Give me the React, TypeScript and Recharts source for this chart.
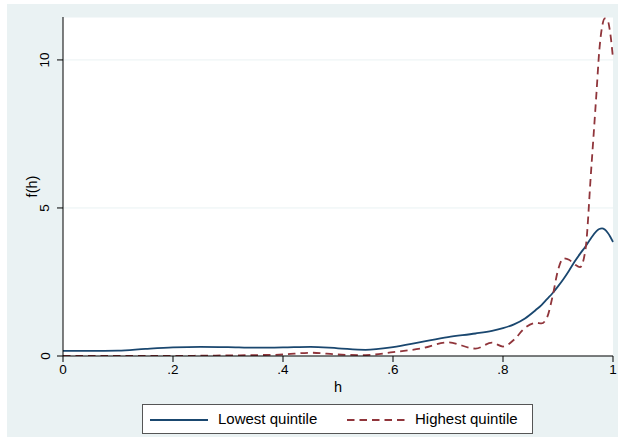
import { LineChart, Line, XAxis, YAxis, CartesianGrid } from "recharts";

// kernel density of h, by quintile
const H = [
  0, 0.05, 0.1, 0.15, 0.2, 0.25, 0.3, 0.35, 0.4, 0.45, 0.5, 0.55, 0.6, 0.65, 0.7, 0.75, 0.78, 0.8, 0.82, 0.84,
  0.86, 0.87, 0.88, 0.89, 0.9, 0.91, 0.92, 0.93, 0.94, 0.95, 0.96, 0.97, 0.975, 0.98, 0.985, 0.99, 0.995, 1,
];
const LOWEST = [
  0.17, 0.17, 0.18, 0.24, 0.29, 0.31, 0.3, 0.28, 0.29, 0.31, 0.26, 0.21, 0.3, 0.47, 0.64, 0.76, 0.85, 0.94, 1.07, 1.27,
  1.56, 1.72, 1.92, 2.12, 2.35, 2.6, 2.88, 3.18, 3.45, 3.7, 3.98, 4.22, 4.29, 4.31, 4.27, 4.17, 4.03, 3.85,
];
const HIGHEST = [
  0, 0, 0, 0, 0, 0.01, 0.02, 0.03, 0.05, 0.11, 0.05, 0.03, 0.13, 0.25, 0.46, 0.25, 0.45, 0.32, 0.55, 0.95,
  1.12, 1.1, 1.3, 2.0, 2.9, 3.3, 3.25, 3.1, 3.0, 3.6, 6.2, 8.9, 10.3, 11.1, 11.4, 11.35, 10.9, 10.05,
];
const X_TICKS = [0, 0.2, 0.4, 0.6, 0.8, 1];
const Y_TICKS = [0, 5, 10];

const NAVY = "#1A476F";
const MAROON = "#90353B";
const BG = "#EAF2F3";
const FONT = "'Liberation Sans', Arial, sans-serif";

const data = H.map((h, i) => ({ h, low: LOWEST[i], high: HIGHEST[i] }));

// stata style: drop the leading zero
const fmtX = (v: number) => (v === 0 || v === 1 ? String(v) : String(v).replace(/^0/, ""));

function YTick(props: any) {
  const { x, y, payload } = props;
  const cx = x - 10;
  return (
    <text
      x={cx}
      y={y}
      transform={`rotate(-90, ${cx}, ${y})`}
      textAnchor="middle"
      dominantBaseline="central"
      fontSize={13.5}
      fontFamily={FONT}
      fill="#000"
    >
      {payload.value}
    </text>
  );
}

function YLabel(props: any) {
  const { viewBox } = props;
  const cx = viewBox.x + 19;
  const cy = viewBox.y + viewBox.height / 2;
  return (
    <text
      x={cx}
      y={cy}
      transform={`rotate(-90, ${cx}, ${cy})`}
      textAnchor="middle"
      dominantBaseline="central"
      fontSize={14.5}
      fontFamily={FONT}
      fill="#000"
    >
      f(h)
    </text>
  );
}

export default function App() {
  return (
    <div style={{ position: "absolute", left: 0, top: 0, width: 622, height: 445, background: "#fff" }}>
      <div style={{ position: "absolute", left: 7, top: 4, width: 611, height: 433, background: BG }} />
      <div style={{ position: "absolute", left: 0, top: 0 }}>
        <LineChart width={622} height={445} data={data} margin={{ top: 17, right: 9, left: 13, bottom: 49 }}>
          <CartesianGrid horizontal vertical={false} stroke={BG} fill="#fff" />
          <XAxis
            type="number"
            dataKey="h"
            domain={[0, 1]}
            ticks={X_TICKS}
            tickFormatter={fmtX}
            height={40}
            tickSize={6}
            tickMargin={2}
            stroke="#000"
            tick={{ fill: "#000", fontSize: 13.5, fontFamily: FONT }}
            label={{ value: "h", position: "insideBottom", offset: 4, fill: "#000", fontSize: 14.5, fontFamily: FONT }}
          />
          <YAxis
            type="number"
            domain={[0, 11.45]}
            ticks={Y_TICKS}
            allowDataOverflow
            width={50}
            tickSize={6}
            tickMargin={2}
            stroke="#000"
            tick={<YTick />}
            label={<YLabel />}
          />
          <Line
            type="monotone"
            dataKey="low"
            stroke={NAVY}
            strokeWidth={1.8}
            dot={false}
            isAnimationActive={false}
          />
          <Line
            type="monotone"
            dataKey="high"
            stroke={MAROON}
            strokeWidth={1.8}
            strokeDasharray="7.5 5"
            dot={false}
            isAnimationActive={false}
          />
        </LineChart>
      </div>

      {/* Legend */}
      <div
        style={{
          position: "absolute",
          left: 142,
          top: 404,
          width: 389,
          height: 28,
          background: "#fff",
          border: "1px solid #555",
          fontFamily: FONT,
          fontSize: 15,
          color: "#000",
        }}
      >
        <svg width={389} height={28} style={{ position: "absolute", left: 0, top: 0 }}>
          <line x1={7} x2={65} y1={15} y2={15} stroke={NAVY} strokeWidth={1.8} />
          <line x1={204} x2={263} y1={15} y2={15} stroke={MAROON} strokeWidth={1.8} strokeDasharray="7.5 5" />
        </svg>
        <span style={{ position: "absolute", left: 75, top: 5, lineHeight: "18px" }}>Lowest quintile</span>
        <span style={{ position: "absolute", left: 272, top: 5, lineHeight: "18px" }}>Highest quintile</span>
      </div>
    </div>
  );
}
